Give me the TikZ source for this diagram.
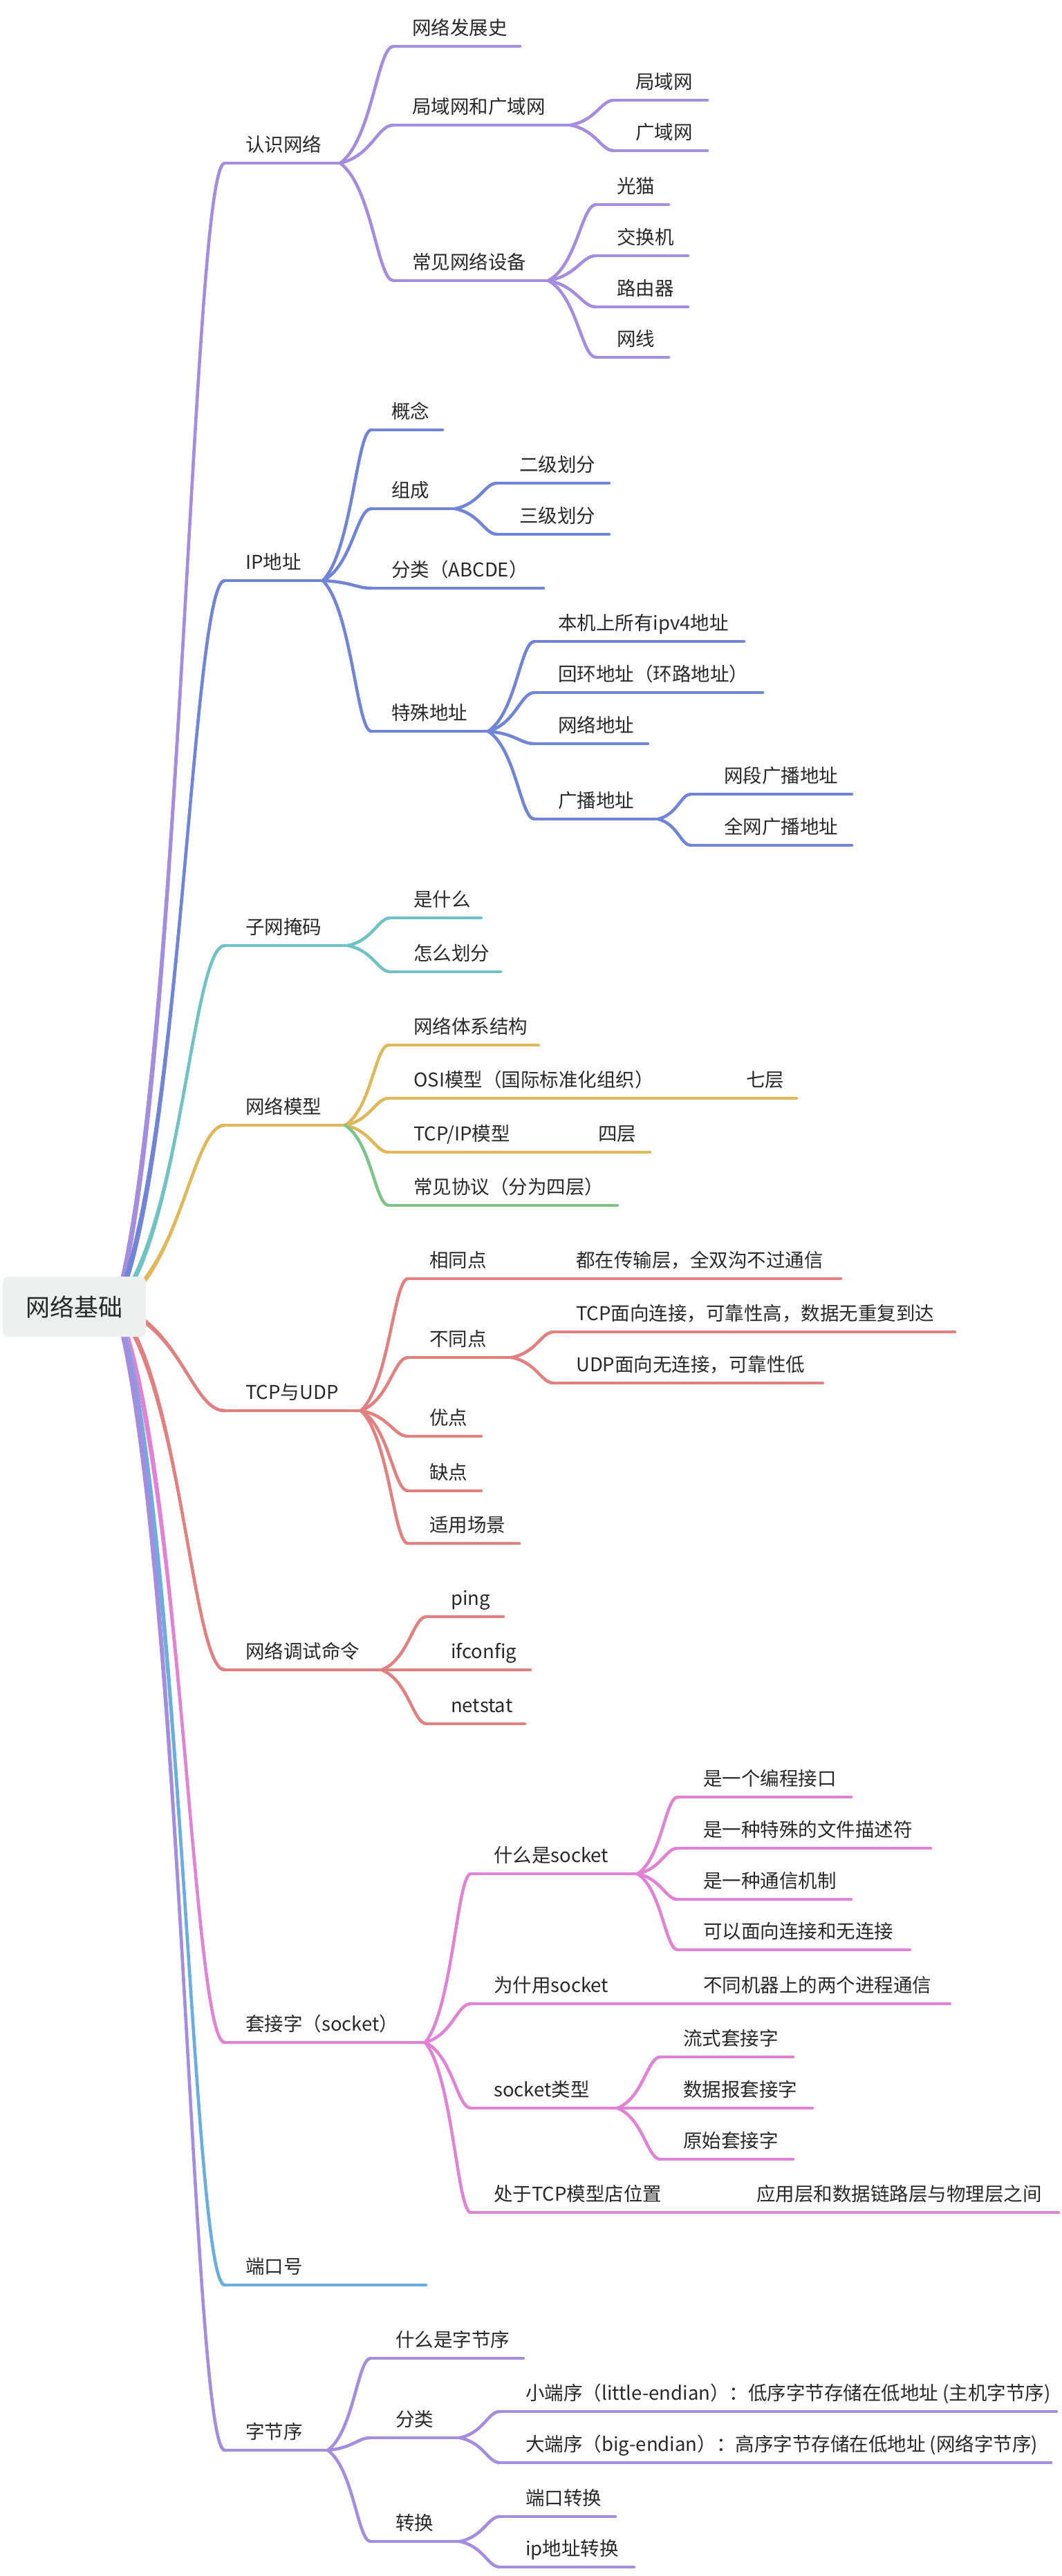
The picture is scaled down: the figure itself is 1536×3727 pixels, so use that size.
\documentclass[tikz,border=0pt]{standalone}
\usepackage{fontspec}
\newfontfamily\cjk{Noto Sans CJK SC}
\usetikzlibrary{calc}
\definecolor{cPurple}{RGB}{164,140,223}
\definecolor{cBlue}{RGB}{112,132,216}
\definecolor{cTeal}{RGB}{112,195,196}
\definecolor{cGold}{RGB}{224,184,90}
\definecolor{cGreen}{RGB}{124,197,137}
\definecolor{cRed}{RGB}{226,128,128}
\definecolor{cPink}{RGB}{226,130,214}
\definecolor{cSky}{RGB}{106,174,224}
\definecolor{cRoot}{RGB}{238,240,240}
\definecolor{cText}{RGB}{40,40,40}
\tikzset{
  lbl/.style={inner sep=0pt, text=cText, font=\cjk\fontsize{27.5}{33}\selectfont},
  branch/.style={line width=4.5pt, line cap=round, line join=round},
  rootbox/.style={fill=cRoot, rounded corners=8pt, minimum width=207pt, minimum height=87pt, inner sep=0pt, text=cText, font=\cjk\fontsize{35}{42}\selectfont},
}
% #1 name, #2 colour, #3 line start x, #4 line end x, #5 line y, #6 text x, #7 text
\newcommand\mmtopic[7]{%
  \coordinate (#1-s) at (#3,#5);
  \coordinate (#1-e) at (#4,#5);
  \node[lbl, anchor=base west] (#1) at (#6,#5-17) {#7};
  \draw[branch, #2] (#1-s) -- (#1-e);
}
% #1 colour, #2 parent, #3 child
\newcommand\mmlink[3]{%
  \draw[branch,#1] let \p1=(#2-e), \p2=(#3-s) in
    (\p1) .. controls ({\x1+0.6*(\x2-\x1)},{\y1+0.2*(\y2-\y1)}) and ({\x1+0.7*(\x2-\x1)},\y2) .. (\p2);
}
% tapered branch from root: #1 colour, #2 child
\newcommand\mmroot[2]{%
  \draw[branch,line width=4.6pt,#1] let \p1=(rootc), \p2=(#2-s) in
    (\p1) .. controls ({\x1+0.6*(\x2-\x1)},{\y1+0.2*(\y2-\y1)}) and ({\x1+0.7*(\x2-\x1)},\y2) .. (\p2);
  \fill[#1] let \p1=(rootc), \p2=(#2-s),
    \p3=({\x1+0.6*(\x2-\x1)},{\y1+0.2*(\y2-\y1)}),
    \p4=({\x1+0.7*(\x2-\x1)},\y2) in
    ($(\p1)!3.8pt!90:(\p3)$) .. controls ($(\p3)!3.8pt!-90:(\p1)$) and ($(\p4)!2.25pt!90:(\p2)$) .. ($(\p2)!2.25pt!-90:(\p4)$)
    -- ($(\p2)!2.25pt!90:(\p4)$) .. controls ($(\p4)!2.25pt!-90:(\p2)$) and ($(\p3)!3.8pt!90:(\p1)$) .. ($(\p1)!3.8pt!-90:(\p3)$) -- cycle;
}
\begin{document}
\begin{tikzpicture}[x=1pt,y=-1pt]
\useasboundingbox (0,0) rectangle (1536,3727);
\coordinate (rootc) at (168,1890);

% level 1
\mmtopic{A}{cPurple}{325}{492}{236}{355}{认识网络}
\mmtopic{B}{cBlue}{325}{467}{840}{355}{IP地址}
\mmtopic{C}{cTeal}{325}{503}{1368}{355}{子网掩码}
\mmtopic{D}{cGold}{325}{499}{1628}{355}{网络模型}
\mmtopic{E}{cRed}{325}{522}{2041}{355}{TCP与UDP}
\mmtopic{F}{cRed}{325}{552}{2416}{355}{网络调试命令}
\mmtopic{G}{cPink}{325}{615}{2955}{355}{套接字（socket）}
\mmtopic{H}{cSky}{325}{616}{3306}{355}{端口号}
\mmtopic{I}{cPurple}{325}{474}{3545}{355}{字节序}

% 认识网络
\mmtopic{A1}{cPurple}{569}{752}{67}{596}{网络发展史}
\mmtopic{A2}{cPurple}{569}{825}{181}{596}{局域网和广域网}
\mmtopic{A3}{cPurple}{569}{793}{406}{596}{常见网络设备}
\mmtopic{A21}{cPurple}{888}{1023}{145}{919}{局域网}
\mmtopic{A22}{cPurple}{888}{1023}{218}{919}{广域网}
\mmtopic{A31}{cPurple}{862}{967}{296}{892}{光猫}
\mmtopic{A32}{cPurple}{862}{995}{370}{892}{交换机}
\mmtopic{A33}{cPurple}{862}{995}{444}{892}{路由器}
\mmtopic{A34}{cPurple}{862}{967}{517}{892}{网线}

% IP地址
\mmtopic{B1}{cBlue}{537}{640}{622}{566}{概念}
\mmtopic{B2}{cBlue}{537}{658}{736}{566}{组成}
\mmtopic{B21}{cBlue}{719}{881}{699}{751}{二级划分}
\mmtopic{B22}{cBlue}{719}{881}{773}{751}{三级划分}
\mmtopic{B3}{cBlue}{537}{786}{851}{566}{分类（ABCDE）}
\mmtopic{B4}{cBlue}{537}{706}{1058}{566}{特殊地址}
\mmtopic{B41}{cBlue}{773}{1076}{928}{807}{本机上所有ipv4地址}
\mmtopic{B42}{cBlue}{773}{1103}{1002}{807}{回环地址（环路地址）}
\mmtopic{B43}{cBlue}{773}{937}{1076}{807}{网络地址}
\mmtopic{B44}{cBlue}{773}{952}{1185}{807}{广播地址}
\mmtopic{B441}{cBlue}{999}{1232}{1149}{1047}{网段广播地址}
\mmtopic{B442}{cBlue}{999}{1232}{1223}{1047}{全网广播地址}

% 子网掩码
\mmtopic{C1}{cTeal}{565}{696}{1328}{598}{是什么}
\mmtopic{C2}{cTeal}{565}{724}{1406}{598}{怎么划分}

% 网络模型
\mmtopic{D1}{cGold}{562}{779}{1512}{598}{网络体系结构}
\mmtopic{D2}{cGold}{562}{975}{1589}{598}{OSI模型（国际标准化组织）}
\mmtopic{D21}{cGold}{1045}{1152}{1589}{1079}{七层}
\mmtopic{D3}{cGold}{562}{765}{1667}{598}{TCP/IP模型}
\mmtopic{D31}{cGold}{830}{940}{1667}{865}{四层}
\mmtopic{D4}{cGreen}{562}{893}{1744}{598}{常见协议（分为四层）}

% TCP与UDP
\mmtopic{E1}{cRed}{590}{725}{1850}{621}{相同点}
\mmtopic{E11}{cRed}{800}{1216}{1850}{833}{都在传输层，全双沟不过通信}
\mmtopic{E2}{cRed}{590}{740}{1964}{621}{不同点}
\mmtopic{E21}{cRed}{801}{1381}{1927}{833}{TCP面向连接，可靠性高，数据无重复到达}
\mmtopic{E22}{cRed}{801}{1190}{2001}{833}{UDP面向无连接，可靠性低}
\mmtopic{E3}{cRed}{590}{696}{2078}{621}{优点}
\mmtopic{E4}{cRed}{590}{696}{2157}{621}{缺点}
\mmtopic{E5}{cRed}{590}{751}{2233}{621}{适用场景}

% 网络调试命令
\mmtopic{F1}{cRed}{617}{728}{2339}{652}{ping}
\mmtopic{F2}{cRed}{617}{767}{2416}{652}{ifconfig}
\mmtopic{F3}{cRed}{617}{759}{2494}{652}{netstat}

% 套接字
\mmtopic{G1}{cPink}{681}{922}{2711}{714}{什么是socket}
\mmtopic{G11}{cPink}{980}{1231}{2600}{1017}{是一个编程接口}
\mmtopic{G12}{cPink}{980}{1346}{2674}{1017}{是一种特殊的文件描述符}
\mmtopic{G13}{cPink}{980}{1231}{2748}{1017}{是一种通信机制}
\mmtopic{G14}{cPink}{980}{1316}{2821}{1017}{可以面向连接和无连接}
\mmtopic{G2}{cPink}{681}{900}{2899}{714}{为什用socket}
\mmtopic{G21}{cPink}{985}{1374}{2899}{1017}{不同机器上的两个进程通信}
\mmtopic{G3}{cPink}{681}{893}{3050}{714}{socket类型}
\mmtopic{G31}{cPink}{955}{1147}{2976}{988}{流式套接字}
\mmtopic{G32}{cPink}{955}{1175}{3050}{988}{数据报套接字}
\mmtopic{G33}{cPink}{955}{1147}{3124}{988}{原始套接字}
\mmtopic{G4}{cPink}{681}{990}{3201}{714}{处于TCP模型店位置}
\mmtopic{G41}{cPink}{1060}{1531}{3201}{1094}{应用层和数据链路层与物理层之间}

% 字节序
\mmtopic{I1}{cPurple}{536}{757}{3412}{572}{什么是字节序}
\mmtopic{I2}{cPurple}{536}{665}{3527}{572}{分类}
\mmtopic{I21}{cPurple}{723}{1528}{3489}{760}{小端序（little-endian）：低序字节存储在低地址 (主机字节序)}
\mmtopic{I22}{cPurple}{723}{1520}{3563}{760}{大端序（big-endian）：高序字节存储在低地址 (网络字节序)}
\mmtopic{I3}{cPurple}{536}{665}{3677}{572}{转换}
\mmtopic{I31}{cPurple}{723}{890}{3641}{760}{端口转换}
\mmtopic{I32}{cPurple}{723}{917}{3714}{760}{ip地址转换}

% links level 1 -> 2 -> ...
\mmlink{cPurple}{A}{A1}\mmlink{cPurple}{A}{A2}\mmlink{cPurple}{A}{A3}
\mmlink{cPurple}{A2}{A21}\mmlink{cPurple}{A2}{A22}
\mmlink{cPurple}{A3}{A31}\mmlink{cPurple}{A3}{A32}\mmlink{cPurple}{A3}{A33}\mmlink{cPurple}{A3}{A34}
\mmlink{cBlue}{B}{B1}\mmlink{cBlue}{B}{B2}\mmlink{cBlue}{B}{B3}\mmlink{cBlue}{B}{B4}
\mmlink{cBlue}{B2}{B21}\mmlink{cBlue}{B2}{B22}
\mmlink{cBlue}{B4}{B41}\mmlink{cBlue}{B4}{B42}\mmlink{cBlue}{B4}{B43}\mmlink{cBlue}{B4}{B44}
\mmlink{cBlue}{B44}{B441}\mmlink{cBlue}{B44}{B442}
\mmlink{cTeal}{C}{C1}\mmlink{cTeal}{C}{C2}
\mmlink{cGold}{D}{D1}\mmlink{cGold}{D}{D2}\mmlink{cGold}{D}{D3}\mmlink{cGreen}{D}{D4}
\mmlink{cGold}{D2}{D21}\mmlink{cGold}{D3}{D31}
\mmlink{cRed}{E}{E1}\mmlink{cRed}{E}{E2}\mmlink{cRed}{E}{E3}\mmlink{cRed}{E}{E4}\mmlink{cRed}{E}{E5}
\mmlink{cRed}{E1}{E11}\mmlink{cRed}{E2}{E21}\mmlink{cRed}{E2}{E22}
\mmlink{cRed}{F}{F1}\mmlink{cRed}{F}{F2}\mmlink{cRed}{F}{F3}
\mmlink{cPink}{G}{G1}\mmlink{cPink}{G}{G2}\mmlink{cPink}{G}{G3}\mmlink{cPink}{G}{G4}
\mmlink{cPink}{G1}{G11}\mmlink{cPink}{G1}{G12}\mmlink{cPink}{G1}{G13}\mmlink{cPink}{G1}{G14}
\mmlink{cPink}{G2}{G21}
\mmlink{cPink}{G3}{G31}\mmlink{cPink}{G3}{G32}\mmlink{cPink}{G3}{G33}
\mmlink{cPink}{G4}{G41}
\mmlink{cPurple}{I}{I1}\mmlink{cPurple}{I}{I2}\mmlink{cPurple}{I}{I3}
\mmlink{cPurple}{I2}{I21}\mmlink{cPurple}{I2}{I22}
\mmlink{cPurple}{I3}{I31}\mmlink{cPurple}{I3}{I32}

% root branches (tapered)
\mmroot{cPurple}{A}
\mmroot{cBlue}{B}
\mmroot{cTeal}{C}
\mmroot{cGold}{D}
\mmroot{cRed}{E}
\mmroot{cRed}{F}
\mmroot{cPink}{G}
\mmroot{cSky}{H}
\mmroot{cPurple}{I}

% root
\node[rootbox] (root) at (107.5,1890.5) {网络基础};
\end{tikzpicture}
\end{document}
